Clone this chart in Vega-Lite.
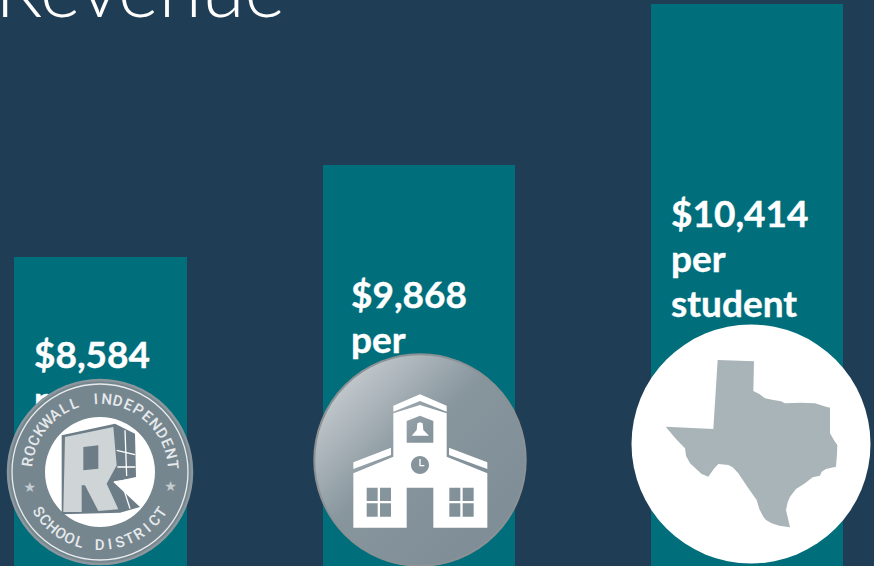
{
"$schema":"https://vega.github.io/schema/vega-lite/v6.json",
"width":874,"height":566,"autosize":{"type":"none"},"padding":0,
"background":"#1f3e55",
"config":{"view":{"stroke":null}},
"datasets":{
"bars":[{"level":"Rockwall ISD","start":14,"end":187,"height":309},{"level":"Region","start":323,"end":515,"height":401},{"level":"Texas","start":651,"end":843,"height":562}],
"labels":[
{"text":"$8,584","at":34,"line":198},{"text":"per","at":34,"line":153},{"text":"student","at":34,"line":108},
{"text":"$9,868","at":351,"line":258},{"text":"per","at":351,"line":213},{"text":"student","at":351,"line":168},
{"text":"$10,414","at":671,"line":339},{"text":"per","at":671,"line":294},{"text":"student","at":671,"line":249}],
"ringText":[
{"c":"R","deg":-82,"rot":-82},{"c":"O","deg":-73.2,"rot":-73.2},{"c":"C","deg":-64.5,"rot":-64.5},{"c":"K","deg":-55.8,"rot":-55.8},{"c":"W","deg":-47,"rot":-47},{"c":"A","deg":-38.3,"rot":-38.3},{"c":"L","deg":-29.6,"rot":-29.6},{"c":"L","deg":-20.8,"rot":-20.8},
{"c":"I","deg":-3.3,"rot":-3.3},{"c":"N","deg":5.4,"rot":5.4},{"c":"D","deg":14.1,"rot":14.1},{"c":"E","deg":22.9,"rot":22.9},{"c":"P","deg":31.6,"rot":31.6},{"c":"E","deg":40.4,"rot":40.4},{"c":"N","deg":49.1,"rot":49.1},{"c":"D","deg":57.9,"rot":57.9},{"c":"E","deg":66.6,"rot":66.6},{"c":"N","deg":75.4,"rot":75.4},{"c":"T","deg":84.1,"rot":84.1},
{"c":"S","deg":237,"rot":57},{"c":"C","deg":228.9,"rot":48.9},{"c":"H","deg":220.8,"rot":40.8},{"c":"O","deg":212.7,"rot":32.7},{"c":"O","deg":204.6,"rot":24.6},{"c":"L","deg":196.5,"rot":16.5},
{"c":"D","deg":180.3,"rot":0.3},{"c":"I","deg":172.2,"rot":-7.8},{"c":"S","deg":164.1,"rot":-15.9},{"c":"T","deg":156,"rot":-24},{"c":"R","deg":147.9,"rot":-32.1},{"c":"I","deg":139.8,"rot":-40.2},{"c":"C","deg":131.7,"rot":-48.3},{"c":"T","deg":123.6,"rot":-56.4}],
"stars":[{"c":"★","deg":-103,"rot":0},{"c":"★","deg":102,"rot":0}]
},
"encoding":{},
"layer":[
{"data":{"name":"bars"},"mark":{"type":"bar","color":"#006e7b"},
 "encoding":{
  "x":{"field":"start","type":"quantitative","axis":null,"scale":{"domain":[0,874],"nice":false,"zero":false}},
  "x2":{"field":"end"},
  "y":{"field":"height","type":"quantitative","axis":null,"scale":{"domain":[0,566],"nice":false,"zero":false}},
  "y2":{"datum":0}}},
{"data":{"values":[{"text":"Revenue","at":-5,"line":549}]},
 "mark":{"type":"text","align":"left","baseline":"alphabetic","font":"Lato","fontWeight":300,"fontSize":78,"color":"#ffffff"},
 "encoding":{"x":{"field":"at","type":"quantitative"},"y":{"field":"line","type":"quantitative"},"text":{"field":"text"}}},
{"data":{"name":"labels"},
 "mark":{"type":"text","align":"left","baseline":"alphabetic","font":"Lato","fontWeight":700,"fontSize":37,"color":"#ffffff","stroke":"#ffffff","strokeWidth":0.4},
 "encoding":{"x":{"field":"at","type":"quantitative"},"y":{"field":"line","type":"quantitative"},"text":{"field":"text"}}},
{"data":{"values":[{"cx":100,"cy":94}]},
 "mark":{"type":"point","shape":"circle","filled":true,"size":33856,"fill":"#76868f","stroke":"#8c979d","strokeWidth":2.5,"opacity":1},
 "encoding":{"x":{"field":"cx","type":"quantitative"},"y":{"field":"cy","type":"quantitative"}}},
{"data":{"values":[{"cx":100,"cy":94}]},
 "mark":{"type":"point","shape":"circle","filled":false,"size":30976,"stroke":"#e8ecee","strokeWidth":1.3,"opacity":1},
 "encoding":{"x":{"field":"cx","type":"quantitative"},"y":{"field":"cy","type":"quantitative"}}},
{"data":{"values":[{"cx":100,"cy":94}]},
 "mark":{"type":"point","shape":"circle","filled":true,"size":12100,"fill":"#ffffff","stroke":null,"opacity":1},
 "encoding":{"x":{"field":"cx","type":"quantitative"},"y":{"field":"cy","type":"quantitative"}}},
{"data":{"values":[{"cx":100,"cy":94}]},
 "mark":{"type":"point","filled":true,"size":0.4444,"fill":"#6d7d87","stroke":null,"opacity":1,
  "shape":"M-115 -110L45 -145L105 -115L108 15L40 30L120 105L60 122L-115 127Z"},
 "encoding":{"x":{"field":"cx","type":"quantitative"},"y":{"field":"cy","type":"quantitative"}}},
{"data":{"values":[{"cx":100,"cy":94}]},
 "mark":{"type":"point","filled":true,"size":0.4444,"fill":"#cfd4d6","stroke":null,"opacity":1,
  "shape":"M-105 -105L40 -135L50 -20L20 35L55 112L-5 117L-45 40L-55 40L-55 120L-110 120ZM-50 -75L-50 -5L-5 -10L-5 -80Z"},
 "encoding":{"x":{"field":"cx","type":"quantitative"},"y":{"field":"cy","type":"quantitative"}}},
{"data":{"values":[{"cx":100,"cy":94}]},
 "mark":{"type":"point","filled":false,"size":0.4444,"stroke":"#ffffff","strokeWidth":1.3,"opacity":1,
  "shape":"M75 -125L80 12M50 -65L105 -52M52 -15L106 -15M42 30L108 20M65 32L90 110"},
 "encoding":{"x":{"field":"cx","type":"quantitative"},"y":{"field":"cy","type":"quantitative"}}},
{"data":{"name":"ringText"},
 "mark":{"type":"text","font":"Roboto","fontWeight":500,"fontSize":15,"align":"center","baseline":"middle","color":"#e6eaec"},
 "encoding":{"x":{"datum":100},"y":{"datum":94},
  "theta":{"field":"deg","type":"quantitative","scale":{"domain":[0,360],"range":[0,6.283185307]}},
  "radius":{"value":73},
  "angle":{"field":"rot","type":"quantitative","scale":null},
  "text":{"field":"c"}}},
{"data":{"name":"stars"},
 "mark":{"type":"text","font":"DejaVu Sans","fontSize":14,"align":"center","baseline":"middle","color":"#c4ccd0"},
 "encoding":{"x":{"datum":100},"y":{"datum":94},
  "theta":{"field":"deg","type":"quantitative","scale":{"domain":[0,360],"range":[0,6.283185307]}},
  "radius":{"value":72},
  "text":{"field":"c"}}},
{"data":{"values":[{"cx":420,"cy":106}]},
 "mark":{"type":"point","shape":"circle","filled":true,"size":44690,"opacity":1,"stroke":"#8b9194","strokeWidth":2,
  "fill":{"gradient":"linear","x1":0,"y1":0,"x2":1,"y2":1,"stops":[{"offset":0.1,"color":"#c8ced1"},{"offset":0.45,"color":"#87959d"},{"offset":1,"color":"#7c8b94"}]}},
 "encoding":{"x":{"field":"cx","type":"quantitative"},"y":{"field":"cy","type":"quantitative"}}},
{"data":{"values":[{"cx":420,"cy":106}]},
 "mark":{"type":"point","filled":true,"size":0.4444,"fill":"#ffffff","stroke":null,"opacity":1,
  "shape":"M-200 40L-80 -10L-80 -140L0 -165L80 -140L80 -10L202 40L202 203L40 203L40 83L-40 83L-40 203L-200 203ZM-80 -163L0 -197L80 -163L80 -145L0 -177L-80 -145ZM-200 7L-87 -37L-87 -15L-200 27ZM87 -37L202 7L202 27L87 -15ZM-40 -117L-40 -52L40 -52L40 -117L0 -133ZM-25 -73L-10 -90L-8 -110L0 -113L8 -110L10 -90L27 -73ZM-27 15A27 27 0 0 0 27 15A27 27 0 0 0 -27 15ZM-2 -3L2 -3L2 15L13 15L13 19L-2 19ZM-160 83L-160 123L-127 123L-127 83ZM-120 83L-120 123L-87 123L-87 83ZM-160 130L-160 170L-127 170L-127 130ZM-120 130L-120 170L-87 170L-87 130ZM88 83L88 123L121 123L121 83ZM128 83L128 123L161 123L161 83ZM88 130L88 170L121 170L121 130ZM128 130L128 170L161 170L161 130Z"},
 "encoding":{"x":{"field":"cx","type":"quantitative"},"y":{"field":"cy","type":"quantitative"}}},
{"data":{"values":[{"cx":751,"cy":122}]},
 "mark":{"type":"point","shape":"circle","filled":true,"size":57121,"fill":"#ffffff","stroke":null,"opacity":1},
 "encoding":{"x":{"field":"cx","type":"quantitative"},"y":{"field":"cy","type":"quantitative"}}},
{"data":{"values":[{"cx":751,"cy":122}]},
 "mark":{"type":"point","filled":true,"size":0.4444,"fill":"#a9b4b9","stroke":null,"opacity":1,
  "shape":"M-100 -252L9 -248L7 -159L25 -150L42 -137L67 -132L90 -128L102 -122L150 -124L192 -122L225 -112L237 -109L237 -32L250 -10L259 3L258 30L255 68L225 75L212 83L207 95L185 100L162 118L135 135L117 158L110 175L105 198L117 250L85 245L62 238L45 228L37 218L25 195L17 168L-10 130L-38 88L-55 70L-68 63L-98 60L-112 75L-128 98L-148 90L-183 58L-195 35L-198 13L-225 -15L-256 -52L-113 -45Z"},
 "encoding":{"x":{"field":"cx","type":"quantitative"},"y":{"field":"cy","type":"quantitative"}}}
]
}
